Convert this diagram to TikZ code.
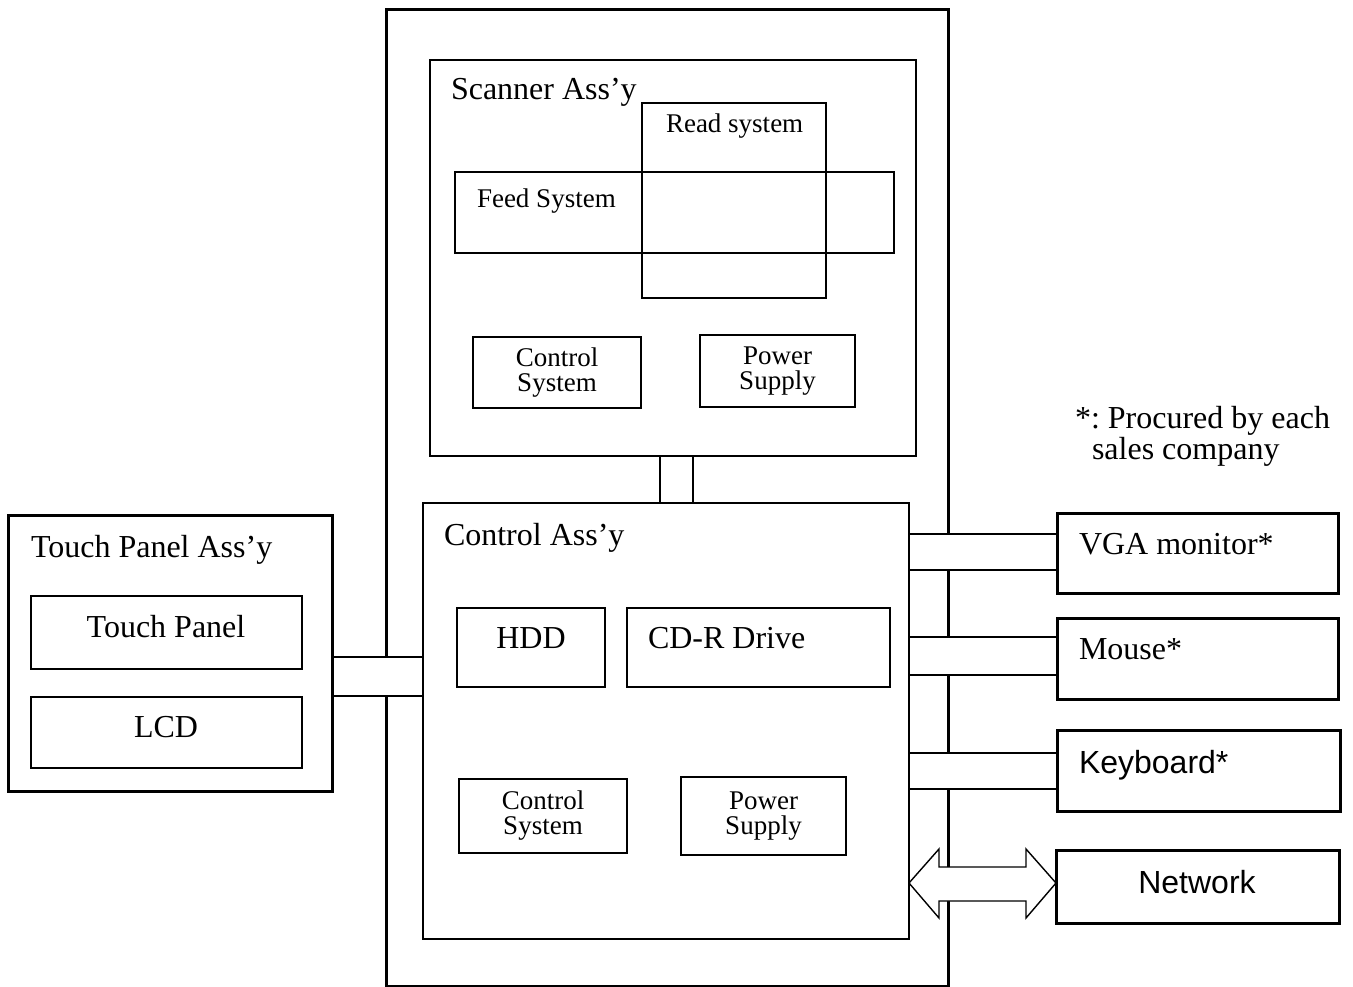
\documentclass[tikz,border=0pt]{standalone}
\usepackage{fontspec}
\setmainfont{Liberation Serif}
\newfontfamily\arialf{Liberation Sans}
\newcommand\fbig{\fontsize{32}{34}\selectfont}
\newcommand\fsmall{\fontsize{27}{25}\selectfont}
\frenchspacing
\begin{document}
\begin{tikzpicture}[x=1pt,y=-1pt,
  box/.style={draw, line width=1.7pt, rectangle, inner sep=0pt, outer sep=0pt, anchor=north west},
  thickbox/.style={box, line width=3pt},
  txt/.style={inner sep=0pt, outer sep=0pt, font=\fbig},
  stxt/.style={inner sep=0pt, outer sep=0pt, font=\fsmall},
  mbox/.style={box, align=center, font=\fsmall},
  link/.style={line width=1.7pt},
  mask/.style={fill=white},
  ]
\useasboundingbox (0,0) rectangle (1353,987);
% main frame
\node[thickbox, minimum width=562pt, minimum height=976pt] (frame) at (386,10) {};
% scanner assembly
\node[box, minimum width=486pt, minimum height=396pt] (scanner) at (430,60) {};
\node[txt, anchor=base west] (scannerlbl) at (451,100) {Scanner Ass’y};
\node[box, minimum width=184pt, minimum height=195pt] (read) at (642,103) {};
\node[stxt, anchor=base west] (readlbl) at (666,133) {Read system};
\node[box, minimum width=439pt, minimum height=81pt] (feed) at (455,172) {};
\node[stxt, anchor=base west] (feedlbl) at (477,208) {Feed System};
\node[mbox, minimum width=168pt, minimum height=71pt] (sctrl) at (473,337) {Control\\System};
\node[mbox, minimum width=155pt, minimum height=72pt] (spower) at (700,335) {Power\\Supply};
% control assembly
\node[box, minimum width=486pt, minimum height=436pt] (control) at (423,503) {};
\node[txt, anchor=base west] (controllbl) at (444,545) {Control Ass’y};
\node[box, minimum width=148pt, minimum height=79pt] (hdd) at (457,608) {};
\node[txt, anchor=base] (hddlbl) at (531,648) {HDD};
\node[box, minimum width=263pt, minimum height=79pt] (cdr) at (627,608) {};
\node[txt, anchor=base west] (cdrlbl) at (648,648) {CD-R Drive};
\node[mbox, minimum width=168pt, minimum height=74pt] (cctrl) at (459,779) {Control\\System};
\node[mbox, minimum width=165pt, minimum height=78pt] (cpower) at (681,777) {Power\\Supply};
% touch panel assembly
\node[thickbox, minimum width=324pt, minimum height=276pt] (touchassy) at (8,515) {};
\node[txt, anchor=base west] (touchassylbl) at (31,557) {Touch Panel Ass’y};
\node[box, minimum width=271pt, minimum height=73pt] (tpanel) at (31,596) {};
\node[txt, anchor=base] (tpanellbl) at (166,637) {Touch Panel};
\node[box, minimum width=271pt, minimum height=71pt] (lcd) at (31,697) {};
\node[txt, anchor=base] (lcdlbl) at (166,737) {LCD};
% external devices
\node[thickbox, minimum width=281pt, minimum height=80pt] (vga) at (1057,513) {};
\node[txt, anchor=base west] (vgalbl) at (1079,554) {VGA monitor*};
\node[thickbox, minimum width=281pt, minimum height=81pt] (mouse) at (1057,618) {};
\node[txt, anchor=base west] (mouselbl) at (1079,659) {Mouse*};
\node[thickbox, minimum width=283pt, minimum height=81pt] (kbd) at (1057,730) {};
\node[txt, anchor=base west, font=\arialf\fbig] (kbdlbl) at (1079,773) {Keyboard*};
\node[thickbox, minimum width=283pt, minimum height=73pt] (net) at (1056,850) {};
\node[txt, anchor=base, font=\arialf\fbig] (netlbl) at (1197,893) {Network};
% note
\node[txt, anchor=base west] (note1) at (1075,428) {*: Procured by each};
\node[txt, anchor=base west] (note2) at (1092,459) {sales company};
% helper coordinates
\coordinate (yl1) at (0,657);
\coordinate (yl2) at (0,696);
\coordinate (yv1) at (0,534);
\coordinate (yv2) at (0,570);
\coordinate (ym1) at (0,637);
\coordinate (ym2) at (0,675);
\coordinate (yk1) at (0,753);
\coordinate (yk2) at (0,789);
\coordinate (xs1) at (660,0);
\coordinate (xs2) at (693,0);
\coordinate (ya) at (0,883);
% masks over the frame where connectors pass
\fill[mask] (372,657) rectangle (400,696);
\fill[mask] (938,534) rectangle (958,570);
\fill[mask] (938,637) rectangle (958,675);
\fill[mask] (938,753) rectangle (958,789);
% connectors
\draw[link] (touchassy.east |- yl1) -- (control.west |- yl1);
\draw[link] (touchassy.east |- yl2) -- (control.west |- yl2);
\draw[link] (scanner.south -| xs1) -- (control.north -| xs1);
\draw[link] (scanner.south -| xs2) -- (control.north -| xs2);
\draw[link] (control.east |- yv1) -- (vga.west |- yv1);
\draw[link] (control.east |- yv2) -- (vga.west |- yv2);
\draw[link] (control.east |- ym1) -- (mouse.west |- ym1);
\draw[link] (control.east |- ym2) -- (mouse.west |- ym2);
\draw[link] (control.east |- yk1) -- (kbd.west |- yk1);
\draw[link] (control.east |- yk2) -- (kbd.west |- yk2);
% network double arrow
\draw[line width=1.4pt, fill=white, line join=miter]
  (control.east |- ya) -- (939,849) -- (939,867) -- (1026,867) -- (1026,849)
  -- (net.west |- ya) -- (1026,918) -- (1026,901) -- (939,901) -- (939,918) -- cycle;
\end{tikzpicture}
\end{document}
